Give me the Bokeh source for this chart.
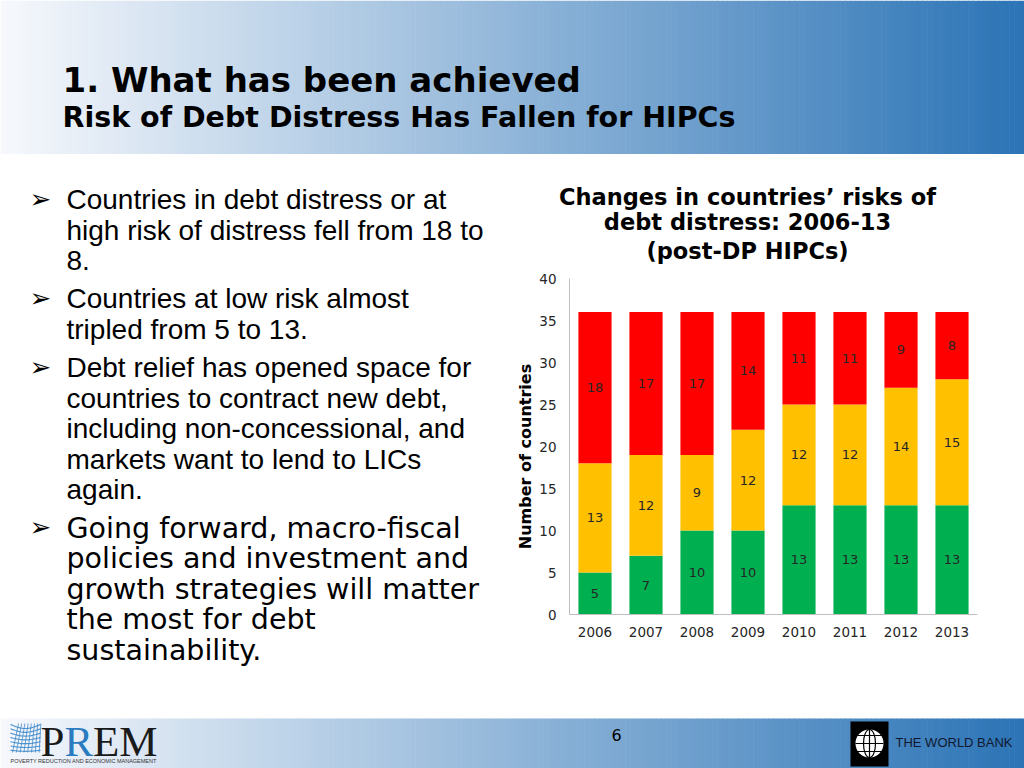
import numpy as np
from bokeh.plotting import figure
from bokeh.models import Range1d, FactorRange, ColumnDataSource, FixedTicker
from bokeh.layouts import column, row
from bokeh.embed import file_html
from bokeh.resources import INLINE
from bokeh.core.properties import value

# ---------------- data ----------------
years = ["2006", "2007", "2008", "2009", "2010", "2011", "2012", "2013"]
low_risk = [5, 7, 10, 10, 13, 13, 13, 13]
moderate_risk = [13, 12, 9, 12, 12, 12, 14, 15]
high_risk = [18, 17, 17, 14, 11, 11, 9, 8]
y_ticks = [0, 5, 10, 15, 20, 25, 30, 35, 40]
series_colors = ["#00B050", "#FFC000", "#FF0000"]

title_main = "1. What has been achieved"
title_sub = "Risk of Debt Distress Has Fallen for HIPCs"
chart_title = ["Changes in countries\u2019 risks of", "debt distress: 2006-13", "(post-DP HIPCs)"]
y_label = "Number of countries"
bullets = [
    ["Countries in debt distress or at", "high risk of distress fell from 18 to", "8."],
    ["Countries at low risk almost", "tripled from 5 to 13."],
    ["Debt relief has opened space for", "countries to contract new debt,",
     "including non-concessional, and", "markets want to lend to LICs", "again."],
    ["Going forward, macro-fiscal", "policies and investment and",
     "growth strategies will matter", "the most for debt", "sustainability."],
]
bullet_fonts = ["Liberation Sans", "Liberation Sans", "Liberation Sans", "DejaVu Sans"]
bullet_sizes = ["28px", "28px", "28px", "28.5px"]
page_number = "6"

SPLIT_X = 533   # left text panel | chart panel
TITLE_Y = 268   # chart title band | chart


def blank(x0, x1, y0, y1):
    f = figure(width=x1 - x0, height=y1 - y0, x_range=Range1d(x0, x1), y_range=Range1d(y1, y0),
               output_backend="svg", toolbar_location=None, min_border=0,
               x_axis_location=None, y_axis_location=None)
    f.grid.visible = False
    f.outline_line_color = None
    f.background_fill_color = "white"
    f.border_fill_color = "white"
    return f


def gradient(f, x0, x1, ytop, ybot, c0, c1, n=200):
    xs = np.linspace(x0, x1, n + 1)
    ts = np.linspace(0, 1, n)
    cols = ["#%02x%02x%02x" % tuple(int(round(a + (b - a) * t)) for a, b in zip(c0, c1)) for t in ts]
    f.quad(left=xs[:-1], right=xs[1:] + 0.6, top=ytop, bottom=ybot, fill_color=cols, line_color=None)


C0 = (246, 248, 252)
C1 = (44, 116, 182)

# ---------------- header ----------------
hdr = blank(0, 1024, 0, 155)
gradient(hdr, 0, 1024, 0, 153.5, C0, C1)
hdr.text(x=[62], y=[79], text=[title_main], text_font=value("DejaVu Sans"), text_font_style="bold",
         text_font_size="34px", text_baseline="middle", text_color="black")
hdr.text(x=[62], y=[117], text=[title_sub], text_font=value("DejaVu Sans"), text_font_style="bold",
         text_font_size="28.5px", text_baseline="middle", text_color="black")

# ---------------- left text panel ----------------
tf = blank(0, SPLIT_X, 155, 718)
yy = 199.0
for i, lines in enumerate(bullets):
    tf.text(x=[40], y=[yy - 1], text=["\u27a2"], text_font=value("DejaVu Sans"), text_font_size="26px",
            text_font_style="bold", text_align="center", text_baseline="middle", text_color="black")
    ys = [yy + k * 30.6 for k in range(len(lines))]
    tf.text(x=[66] * len(lines), y=ys, text=lines, text_font=value(bullet_fonts[i]),
            text_font_size=bullet_sizes[i], text_baseline="middle", text_color="black")
    yy += len(lines) * 30.6 + 7.5
tf.text(x=[524.5], y=[456], text=[y_label], angle=np.pi / 2, text_font=value("DejaVu Sans"),
        text_font_style="bold", text_font_size="16px", text_align="center",
        text_baseline="middle", text_color="black")

# ---------------- chart title band ----------------
tt = blank(SPLIT_X, 1024, 155, TITLE_Y)
tt.text(x=[747] * 3, y=[196, 221, 250], text=chart_title, text_font=value("DejaVu Sans"),
        text_font_style="bold", text_font_size="22.5px", text_align="center",
        text_baseline="middle", text_color="black")

# ---------------- chart ----------------
p = figure(width=1024 - SPLIT_X, height=718 - TITLE_Y, x_range=FactorRange(*years),
           y_range=Range1d(0, 40), output_backend="svg", toolbar_location=None,
           min_border_left=569 - SPLIT_X, min_border_right=1024 - 977,
           min_border_top=278 - TITLE_Y, min_border_bottom=718 - 614)
src = ColumnDataSource(dict(years=years, low=low_risk, moderate=moderate_risk, high=high_risk))
p.vbar_stack(["low", "moderate", "high"], x="years", width=0.65, color=series_colors,
             line_color=None, source=src)

lab_x, lab_y, lab_t = [], [], []
for yr, a, b, c in zip(years, low_risk, moderate_risk, high_risk):
    base = 0
    for v in (a, b, c):
        lab_x.append(yr)
        lab_y.append(base + v / 2)
        lab_t.append(str(v))
        base += v
p.text(x=lab_x, y=lab_y, text=lab_t, text_font=value("DejaVu Sans"), text_font_size="13px",
       text_align="center", text_baseline="middle", text_color="#262626")

p.grid.visible = False
p.outline_line_color = None
p.background_fill_color = "white"
p.border_fill_color = "white"
p.axis.axis_line_color = "#bfbfbf"
p.axis.major_tick_line_color = None
p.axis.minor_tick_line_color = None
p.axis.major_tick_out = 0
p.axis.major_tick_in = 0
p.axis.major_label_text_font = "DejaVu Sans"
p.axis.major_label_text_font_size = "13.5px"
p.axis.major_label_text_color = "#262626"
p.yaxis.ticker = FixedTicker(ticks=y_ticks)
p.yaxis.major_label_standoff = 13
p.xaxis.major_label_standoff = 12

# ---------------- footer ----------------
ft = blank(0, 1024, 718, 768)
gradient(ft, 0, 1024, 717, 768, C0, C1)
# PREM logo mesh
for k in range(7):
    xs = np.linspace(10, 40, 20)
    ys = 724 + k * 4.3 + 4 * np.sin((xs - 10) / 30 * np.pi) * (1 - k / 8)
    ft.line(xs, ys, line_color="#2f7fc4", line_width=1.2, line_alpha=0.8)
for k in range(8):
    ft.line([12 + k * 3.8, 18 + k * 3.2], [752, 723], line_color="#2f7fc4", line_width=1, line_alpha=0.7)
ft.text(x=[40], y=[740.5], text=["P"], text_font=value("Liberation Serif"), text_font_size="43px",
        text_baseline="middle", text_color="#1a1a1a")
ft.text(x=[63.9], y=[740.5], text=["R"], text_font=value("Liberation Serif"), text_font_size="43px",
        text_baseline="middle", text_color="#2b7bc0")
ft.text(x=[92.6], y=[740.5], text=["EM"], text_font=value("Liberation Serif"), text_font_size="43px",
        text_baseline="middle", text_color="#1a1a1a")
ft.text(x=[10], y=[760], text=["POVERTY REDUCTION AND ECONOMIC MANAGEMENT"],
        text_font=value("Liberation Sans"), text_font_size="5.5px", text_baseline="middle",
        text_color="#333333")
ft.text(x=[616], y=[734], text=[page_number], text_font=value("DejaVu Sans"), text_font_size="16px",
        text_align="center", text_baseline="middle", text_color="black")
# World Bank logo
ft.quad(left=[850], right=[888], top=[721], bottom=[766], fill_color="black", line_color=None)
ft.circle(x=[869], y=[743], radius=14, fill_color="white", line_color=None)
ft.ellipse(x=[869], y=[743], width=12, height=28, fill_color=None, line_color="black", line_width=1.2)
ft.line([869, 869], [729, 757], line_color="black", line_width=1.2)
ft.line([855, 883], [743, 743], line_color="black", line_width=1.2)
ft.line([857, 881], [735, 735], line_color="black", line_width=1)
ft.line([857, 881], [751, 751], line_color="black", line_width=1)
ft.text(x=[895], y=[742], text=["THE WORLD BANK"], text_font=value("Liberation Sans"),
        text_font_size="13px", text_baseline="middle", text_color="#101830")

layout = column(hdr, row(tf, column(row(tt), p)), ft)
open("out.html", "w").write(file_html(layout, INLINE))
